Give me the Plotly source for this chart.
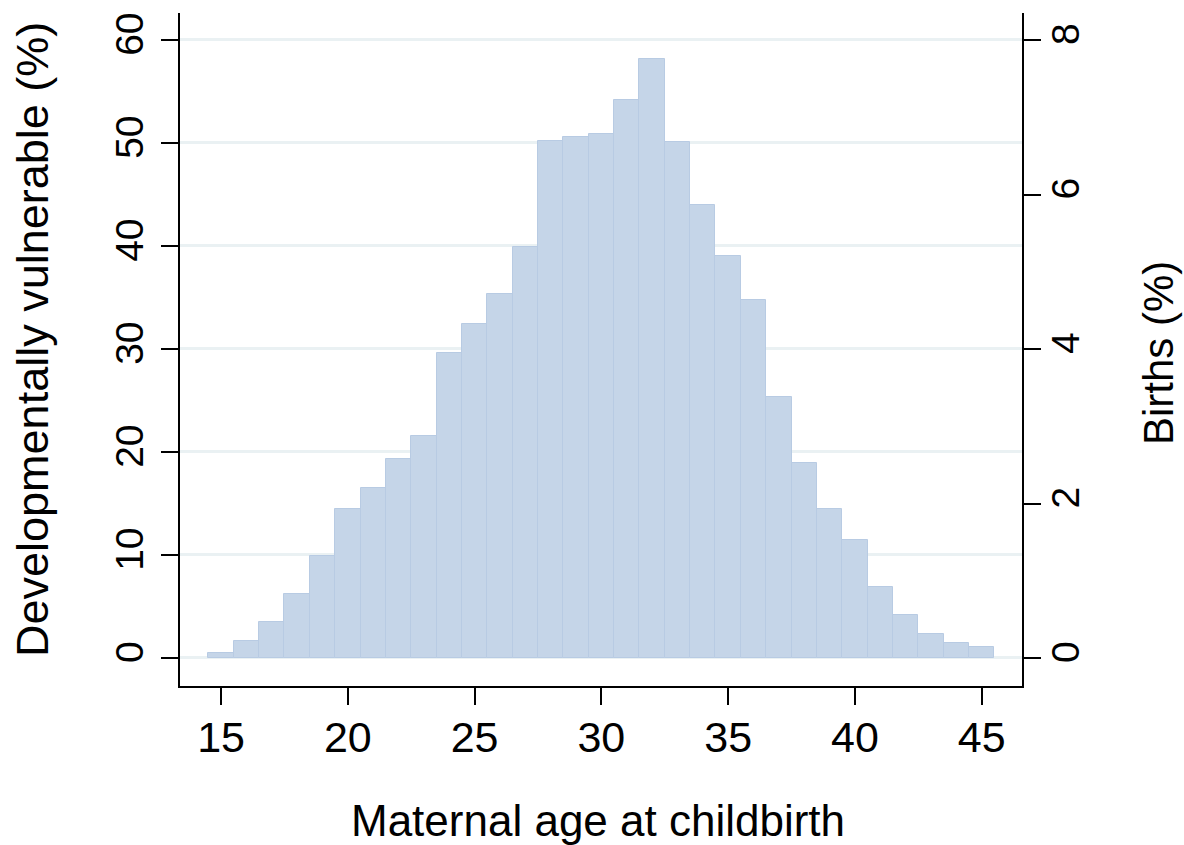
import plotly.graph_objects as go

# Share of births by single year of maternal age (%)
ages = list(range(15, 46))
births_pct = [
    0.06, 0.22, 0.47, 0.83, 1.32, 1.93, 2.20, 2.57, 2.88, 3.95,
    4.32, 4.71, 5.32, 6.69, 6.75, 6.78, 7.22, 7.76, 6.68, 5.87,
    5.21, 4.63, 3.38, 2.53, 1.93, 1.53, 0.92, 0.56, 0.31, 0.19,
    0.14,
]

x_ticks = [15, 20, 25, 30, 35, 40, 45]
left_ticks = [0, 10, 20, 30, 40, 50, 60]
right_ticks = [0, 2, 4, 6, 8]

FONT = "Liberation Sans, Arial, Helvetica, sans-serif"
X_TICK_SIZE = 43
Y_TICK_SIZE = 39
TITLE_SIZE = 44

W, H = 1184, 845
M_L, M_R, M_T, M_B = 180, 162, 13, 159
plot_w = W - M_L - M_R
plot_h = H - M_T - M_B


def px_to_paper_x(px):
    return (px - M_L) / plot_w


def px_to_paper_y(py):
    return (H - M_B - py) / plot_h


axis_common = dict(
    ticks="outside",
    ticklen=17,
    tickwidth=2,
    tickcolor="black",
    showline=True,
    linecolor="black",
    linewidth=2,
    zeroline=False,
)

fig = go.Figure()

# empty trace so the left axis (vulnerability %) is drawn
fig.add_trace(go.Scatter(x=[], y=[], yaxis="y", showlegend=False, hoverinfo="skip"))

fig.add_trace(go.Bar(
    x=ages,
    y=births_pct,
    width=1,
    yaxis="y2",
    marker=dict(color="#c5d5e8", line=dict(color="#b8cbe3", width=1)),
    showlegend=False,
))

fig.update_layout(
    width=W,
    height=H,
    margin=dict(l=M_L, r=M_R, t=M_T, b=M_B, autoexpand=False),
    paper_bgcolor="white",
    plot_bgcolor="white",
    font=dict(family=FONT, color="black", size=X_TICK_SIZE),
    bargap=0,
    xaxis=dict(
        range=[13.38, 46.59],
        tickvals=x_ticks,
        showgrid=False,
        tickfont=dict(size=X_TICK_SIZE),
        ticklabelstandoff=-5,
        **axis_common,
    ),
    yaxis=dict(
        range=[-2.72, 62.62],
        tickvals=left_ticks,
        tickangle=-90,
        showgrid=True,
        gridcolor="#eaf1f3",
        gridwidth=3,
        tickfont=dict(size=Y_TICK_SIZE),
        ticklabelstandoff=2,
        **axis_common,
    ),
    yaxis2=dict(
        range=[-0.3625, 8.35],
        overlaying="y",
        side="right",
        tickvals=right_ticks,
        tickangle=-90,
        showgrid=False,
        tickfont=dict(size=Y_TICK_SIZE),
        ticklabelstandoff=-9,
        **axis_common,
    ),
    annotations=[
        dict(
            text="Maternal age at childbirth",
            xref="paper", yref="paper",
            x=px_to_paper_x(598), y=px_to_paper_y(820),
            xanchor="center", yanchor="middle",
            showarrow=False,
            font=dict(size=TITLE_SIZE),
        ),
        dict(
            text="Developmentally vulnerable (%)",
            xref="paper", yref="paper",
            x=px_to_paper_x(32), y=px_to_paper_y(340),
            xanchor="center", yanchor="middle",
            textangle=-90,
            showarrow=False,
            font=dict(size=45),
        ),
        dict(
            text="Births (%)",
            xref="paper", yref="paper",
            x=px_to_paper_x(1158), y=px_to_paper_y(353),
            xanchor="center", yanchor="middle",
            textangle=-90,
            showarrow=False,
            font=dict(size=42),
        ),
    ],
)

fig.write_html("out.html")
